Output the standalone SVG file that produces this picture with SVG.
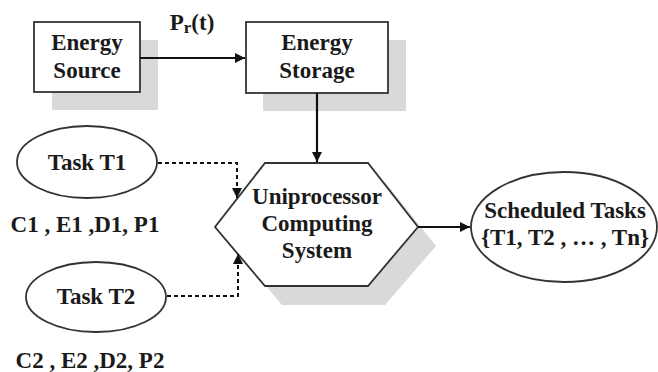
<svg xmlns="http://www.w3.org/2000/svg" width="658" height="372" viewBox="0 0 658 372">
<style>
text{font-family:'Liberation Serif','DejaVu Serif',serif;font-weight:bold;font-size:23px;fill:#1a1a1a;text-anchor:middle}
.box{fill:#fff;stroke:#333;stroke-width:1.8}
.sh{fill:#d9d9d9}
.ln{fill:none;stroke:#111;stroke-width:2.2}
.dash{fill:none;stroke:#111;stroke-width:2;stroke-dasharray:4,3}
</style>
<defs>
<marker id="ah" viewBox="0 0 10 10" refX="10" refY="5" markerWidth="12" markerHeight="10" markerUnits="userSpaceOnUse" orient="auto">
<path d="M0,0 L10,5 L0,10 z" fill="#111"/>
</marker>
<marker id="ahb" viewBox="0 0 10 10" refX="10" refY="5" markerWidth="11" markerHeight="10" markerUnits="userSpaceOnUse" orient="auto">
<path d="M0,0 L10,5 L0,10 z" fill="#111"/>
</marker>
</defs>
<g id="energy-source">
<rect class="sh" x="52" y="40" width="106" height="70"/>
<rect class="box" x="34" y="22" width="106" height="70"/>
<text x="87" y="50">Energy</text>
<text x="87" y="78">Source</text>
</g>
<g id="energy-storage">
<rect class="sh" x="263" y="40" width="143" height="71"/>
<rect class="box" x="246" y="22" width="142" height="71"/>
<text x="317" y="50">Energy</text>
<text x="317" y="78">Storage</text>
</g>
<g id="processor">
<polygon class="sh" points="282,182 385,182 436,246 385,305 282,305 232,246"/>
<polygon class="box" points="265,163 368,163 418,227 368,286 265,286 215,227"/>
<text x="317" y="204">Uniprocessor</text>
<text x="317" y="231">Computing</text>
<text x="317" y="258">System</text>
</g>
<g id="scheduled">
<ellipse class="box" cx="564" cy="227" rx="93" ry="55"/>
<text x="565" y="218">Scheduled Tasks</text>
<text x="565" y="245">{T1, T2 , … , Tn}</text>
</g>
<g id="task-t1">
<ellipse class="box" cx="87" cy="162" rx="70" ry="36"/>
<text x="87" y="170">Task T1</text>
<text x="85" y="232">C1 , E1 ,D1, P1</text>
</g>
<g id="task-t2">
<ellipse class="box" cx="96" cy="297" rx="70" ry="35"/>
<text x="96" y="304">Task T2</text>
<text x="90" y="368">C2 , E2 ,D2, P2</text>
</g>
<g id="connectors">
<path class="ln" d="M140,58 H245" marker-end="url(#ah)"/>
<text x="192" y="30" font-size="25">P<tspan font-size="17" dy="3">r</tspan><tspan dy="-3">(t)</tspan></text>
<path class="ln" d="M317,93 V162" marker-end="url(#ah)"/>
<path class="ln" d="M418,227 H470" marker-end="url(#ah)"/>
<path class="dash" d="M158,163 H237 V198" marker-end="url(#ahb)"/>
<path class="dash" d="M167,296 H238 V254" marker-end="url(#ahb)"/>
</g>
</svg>
